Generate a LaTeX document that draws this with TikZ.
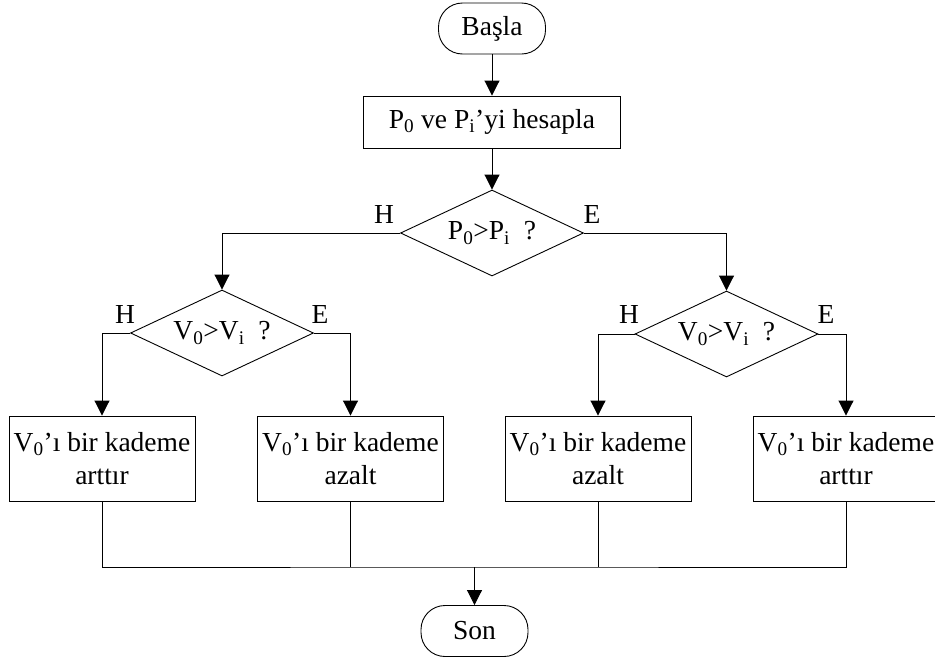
\documentclass[tikz,border=0pt]{standalone}
\usepackage{fontspec}
\setmainfont{Liberation Serif}
\usetikzlibrary{arrows.meta,shapes.geometric}
\tikzset{
  every node/.style={font=\fontsize{27.5}{33}\selectfont},
  line/.style={line width=0.9pt, draw=black},
  arr/.style={line, -{Triangle[length=15pt,width=15pt]}},
  term/.style={line, rounded corners=24pt, minimum width=107pt, minimum height=51pt, inner sep=0pt},
  procbox/.style={line, rectangle, minimum width=186pt, minimum height=85pt, inner sep=0pt, align=center},
  wide/.style={line, rectangle, minimum width=257pt, minimum height=52pt, inner sep=0pt},
  decide/.style={line, diamond, aspect=2.13, minimum width=183pt, minimum height=86pt, inner sep=0pt},
  lbl/.style={inner sep=0pt}
}
\newcommand{\sbs}[1]{\textsubscript{#1}}
\begin{document}
\begin{tikzpicture}[x=1pt,y=-1pt]
\clip (0,0) rectangle (935,659);
\node[term] (start) at (492,28.5) {Başla};
\node[wide] (calc) at (492,122) {P\sbs{0} ve P\sbs{i}’yi hesapla};
\node[decide] (d1) at (492,233) {P\sbs{0}>P\sbs{i}\ \ ?};
\node[decide] (d2) at (222,333) {V\sbs{0}>V\sbs{i}\ \ ?};
\node[decide] (d3) at (726.5,334) {V\sbs{0}>V\sbs{i}\ \ ?};
\node[procbox] (b1) at (102,458.5) {V\sbs{0}’ı bir kademe\\arttır};
\node[procbox] (b2) at (350.5,458.5) {V\sbs{0}’ı bir kademe\\azalt};
\node[procbox] (b3) at (598,458.5) {V\sbs{0}’ı bir kademe\\azalt};
\node[procbox] (b4) at (846,458.5) {V\sbs{0}’ı bir kademe\\arttır};
\node[term] (son) at (474.5,631) {Son};
\coordinate (join) at (474.5,567);
% labels
\node[lbl] (h1) at (384,214) {H};
\node[lbl] (e1) at (592,214) {E};
\node[lbl] (h2) at (125,314) {H};
\node[lbl] (e2) at (320,314) {E};
\node[lbl] (h3) at (629,314) {H};
\node[lbl] (e3) at (826,314) {E};
% connectors
\draw[arr] (start) -- (calc);
\draw[arr] (calc) -- (d1);
\draw[arr] (d1.west) -| (d2.north);
\draw[arr] (d1.east) -| (d3.north);
\draw[arr] (d2.west) -| (b1.north);
\draw[arr] (d2.east) -| (b2.north);
\draw[arr] (d3.west) -| (b3.north);
\draw[arr] (d3.east) -| (b4.north);
\draw[line] (b1.south) |- (join) -| (b4.south);
\draw[line] (b2.south) -- (b2.south |- join);
\draw[line] (b3.south) -- (b3.south |- join);
\draw[arr] (join) -- (son);
\end{tikzpicture}
\end{document}
